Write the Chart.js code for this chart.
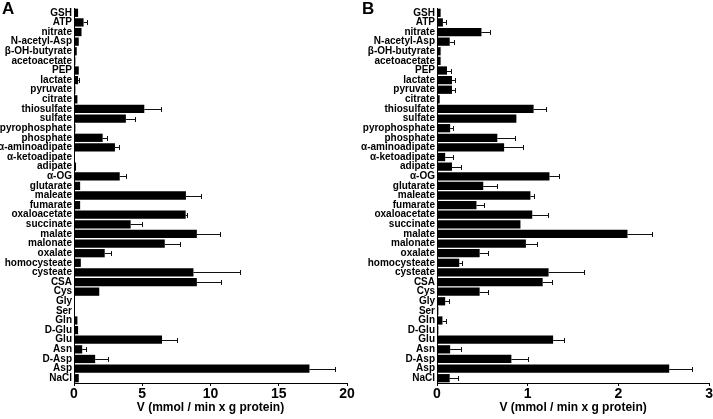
<!DOCTYPE html>
<html>
<head>
<meta charset="utf-8">
<script src="https://cdn.jsdelivr.net/npm/chart.js@4/dist/chart.umd.min.js"></script>
<style>
    body { margin: 0; background: #fff; }
    .panel { position: absolute; top: 0; height: 419px; }
    .letter { position: absolute; font: bold 17px "Liberation Sans", Arial, sans-serif; color: #000; }
</style>
</head>
<body>
<div class="panel" style="left:0;width:355px;"><canvas id="chartA" width="355" height="419"></canvas></div>
<div class="panel" style="left:355px;width:358px;"><canvas id="chartB" width="358" height="419"></canvas></div>
<div class="letter" style="left:2px;top:-1px;">A</div>
<div class="letter" style="left:362px;top:-1px;">B</div>
<script>
const categories = ['GSH', 'ATP', 'nitrate', 'N-acetyl-Asp', 'β-OH-butyrate', 'acetoacetate', 'PEP', 'lactate',
    'pyruvate', 'citrate', 'thiosulfate', 'sulfate', 'pyrophosphate', 'phosphate', 'α-aminoadipate',
    'α-ketoadipate', 'adipate', 'α-OG', 'glutarate', 'maleate', 'fumarate', 'oxaloacetate', 'succinate',
    'malate', 'malonate', 'oxalate', 'homocysteate', 'cysteate', 'CSA', 'Cys', 'Gly', 'Ser', 'Gln',
    'D-Glu', 'Glu', 'Asn', 'D-Asp', 'Asp', 'NaCl'];

// panel A
const ratesA = [0.3, 0.7, 0.55, 0.35, 0.2, 0.1, 0.35, 0.3, 0.1, 0.25, 5.15, 3.8, 0.1, 2.1, 3.0,
    0.02, 0.15, 3.35, 0.45, 8.2, 0.45, 8.18, 4.15, 9.0, 6.65, 2.25, 0.5, 8.75, 9.0, 1.85, 0.05, 0.05, 0.25,
    0.3, 6.45, 0.6, 1.55, 17.25, 0.35];
const errA = [0, 0.25, 0, 0, 0, 0, 0, 0.1, 0, 0, 1.2, 0.65, 0, 0.35, 0.3,
    0, 0, 0.45, 0, 1.1, 0, 0.12, 0.8, 1.7, 1.15, 0.45, 0, 3.4, 1.8, 0, 0, 0, 0,
    0, 1.1, 0.3, 0.95, 1.9, 0];
const ticksA = [0, 5, 10, 15, 20];

// panel B
const ratesB = [0.04, 0.065, 0.49, 0.14, 0.04, 0.04, 0.11, 0.165, 0.165, 0.03, 1.065, 0.875, 0.145, 0.665, 0.74,
    0.09, 0.165, 1.24, 0.51, 1.03, 0.435, 1.05, 0.92, 2.1, 0.98, 0.47, 0.245, 1.23, 1.165, 0.47, 0.09, 0.015, 0.06,
    0.015, 1.28, 0.145, 0.82, 2.56, 0.14];
const errB = [0, 0.035, 0.09, 0.05, 0, 0, 0.04, 0.035, 0.035, 0, 0.14, 0, 0.035, 0.2, 0.21,
    0.085, 0.095, 0.1, 0.15, 0.04, 0.085, 0.175, 0, 0.27, 0.12, 0.09, 0.03, 0.39, 0.1, 0.095, 0.045, 0, 0.035,
    0, 0.12, 0.115, 0.18, 0.25, 0.09];
const ticksB = [0, 1, 2, 3];

const axisTitle = 'V (mmol / min x g protein)';
const FONT = '"Liberation Sans", Arial, Helvetica, sans-serif';

// one-sided error bars with a cap, drawn after the bars
const errorBars = {
    id: 'errorBars',
    afterDatasetsDraw(chart, args, opts) {
        const ctx = chart.ctx;
        const xScale = chart.scales.x;
        const meta = chart.getDatasetMeta(0);
        const values = chart.data.datasets[0].data;
        ctx.save();
        ctx.strokeStyle = '#111';
        ctx.lineWidth = 1;
        meta.data.forEach((bar, i) => {
            const err = opts.errors[i];
            if (!err) return;
            const x0 = xScale.getPixelForValue(values[i]);
            const x1 = Math.round(xScale.getPixelForValue(values[i] + err)) + 0.5;
            const y = Math.round(bar.y) + 0.5;
            ctx.beginPath();
            ctx.moveTo(x0, y);
            ctx.lineTo(x1, y);
            ctx.moveTo(x1, y - 2.5);
            ctx.lineTo(x1, y + 2.5);
            ctx.stroke();
        });
        ctx.restore();
    }
};

function makeChart(id, values, errors, ticks, labelWidth, padRight) {
    const ctx = document.getElementById(id).getContext('2d');
    return new Chart(ctx, {
        type: 'bar',
        data: {
            labels: categories,
            datasets: [{
                data: values,
                backgroundColor: '#000',
                borderWidth: 0,
                barPercentage: 0.86,
                categoryPercentage: 1
            }]
        },
        plugins: [errorBars],
        options: {
            indexAxis: 'y',
            responsive: false,
            animation: false,
            layout: { padding: { top: 0, right: padRight, bottom: 0, left: 0 } },
            plugins: {
                legend: { display: false },
                tooltip: { enabled: false },
                errorBars: { errors: errors }
            },
            scales: {
                x: {
                    min: ticks[0],
                    max: ticks[ticks.length - 1],
                    ticks: {
                        stepSize: ticks[1] - ticks[0],
                        color: '#000',
                        padding: 0,
                        font: { family: FONT, size: 14, weight: 'bold' }
                    },
                    grid: { display: true, drawOnChartArea: false, drawTicks: true, tickLength: 3, color: '#000' },
                    border: { display: true, color: '#000', width: 1 },
                    title: {
                        display: true,
                        text: axisTitle,
                        color: '#000',
                        padding: { top: 0, bottom: 4 },
                        font: { family: FONT, size: 12, weight: 'bold' }
                    },
                    afterFit: scale => { scale.height = 36; }
                },
                y: {
                    ticks: {
                        autoSkip: false,
                        color: '#000',
                        padding: 2,
                        font: { family: FONT, size: 10, weight: 'bold' }
                    },
                    grid: { display: false, drawTicks: false },
                    border: { display: true, color: '#000', width: 1 },
                    afterFit: scale => { scale.width = labelWidth; }
                }
            }
        }
    });
}

makeChart('chartA', ratesA, errA, ticksA, 74, 8);
makeChart('chartB', ratesB, errB, ticksB, 82, 3);
</script>
</body>
</html>
